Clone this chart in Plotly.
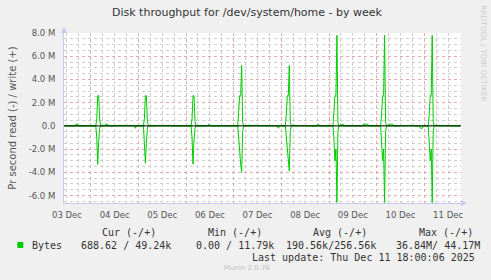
import plotly.graph_objects as go

title = "Disk throughput for /dev/system/home - by week"
y_title = "Pr second read (-) / write (+)"
x_start = "2025-12-03 10:30"
x_end = "2025-12-11 18:30"
y_tick_vals = [8, 6, 4, 2, 0, -2, -4, -6]
y_tick_text = ["8.0 M", "6.0 M", "4.0 M", "2.0 M", "0.0", "-2.0 M", "-4.0 M", "-6.0 M"]

# write (+) series, MB/s
write_times = [
    "2025-12-03 10:30", "2025-12-03 12:00", "2025-12-03 16:00", "2025-12-03 16:30", "2025-12-03 17:30", "2025-12-03 18:00",
    "2025-12-04 02:30", "2025-12-04 03:00", "2025-12-04 03:30", "2025-12-04 04:00", "2025-12-04 04:30", "2025-12-04 05:00",
    "2025-12-04 07:00", "2025-12-04 07:30", "2025-12-04 08:30", "2025-12-04 09:00",
    "2025-12-04 15:00", "2025-12-04 20:00", "2025-12-04 20:30",
    "2025-12-05 02:30", "2025-12-05 03:00", "2025-12-05 03:30", "2025-12-05 04:00", "2025-12-05 04:30", "2025-12-05 05:00",
    "2025-12-05 12:00", "2025-12-05 16:00", "2025-12-05 16:30",
    "2025-12-06 02:30", "2025-12-06 03:00", "2025-12-06 03:30", "2025-12-06 04:00", "2025-12-06 04:30", "2025-12-06 05:00",
    "2025-12-06 11:00", "2025-12-06 11:30", "2025-12-06 12:00",
    "2025-12-07 02:00", "2025-12-07 02:30", "2025-12-07 03:00", "2025-12-07 03:30", "2025-12-07 04:00", "2025-12-07 04:30", "2025-12-07 05:00",
    "2025-12-07 07:30", "2025-12-07 10:30", "2025-12-07 11:00",
    "2025-12-08 02:00", "2025-12-08 02:30", "2025-12-08 03:00", "2025-12-08 03:30", "2025-12-08 04:00", "2025-12-08 04:30", "2025-12-08 05:00",
    "2025-12-08 05:30", "2025-12-08 08:30", "2025-12-08 09:00",
    "2025-12-08 18:00", "2025-12-08 18:30", "2025-12-08 19:00", "2025-12-08 19:30",
    "2025-12-09 02:00", "2025-12-09 02:30", "2025-12-09 03:00", "2025-12-09 03:30", "2025-12-09 04:00", "2025-12-09 04:30", "2025-12-09 05:00",
    "2025-12-09 06:00", "2025-12-09 07:30", "2025-12-09 08:00",
    "2025-12-09 17:00", "2025-12-09 17:30", "2025-12-09 19:30", "2025-12-09 20:00",
    "2025-12-10 02:00", "2025-12-10 02:30", "2025-12-10 03:00", "2025-12-10 03:30", "2025-12-10 04:00", "2025-12-10 04:30", "2025-12-10 05:00",
    "2025-12-10 07:00", "2025-12-10 08:00", "2025-12-10 08:30",
    "2025-12-10 13:30", "2025-12-10 18:00", "2025-12-10 18:30",
    "2025-12-11 02:00", "2025-12-11 02:30", "2025-12-11 03:00", "2025-12-11 03:30", "2025-12-11 04:00", "2025-12-11 04:30", "2025-12-11 05:00",
    "2025-12-11 05:30", "2025-12-11 08:00", "2025-12-11 08:30",
    "2025-12-11 12:00", "2025-12-11 16:30", "2025-12-11 17:00", "2025-12-11 18:00",
]
write_vals = [
    0.03, 0.0, 0.0, 0.15, 0.15, 0.0,
    0.0, 0.6, 2.6, 2.6, 0.5, 0.0,
    0.0, 0.15, 0.15, 0.0,
    0.05, 0.05, 0.0,
    0.0, 0.6, 2.6, 2.6, 0.4, 0.0,
    0.05, 0.05, 0.0,
    0.0, 0.6, 2.6, 2.6, 0.4, 0.0,
    0.0, 0.15, 0.0,
    0.0, 1.0, 2.6, 2.6, 5.2, 0.3, 0.0,
    0.05, 0.05, 0.0,
    0.0, 1.0, 2.6, 2.6, 5.2, 0.3, 0.0,
    0.05, 0.05, 0.0,
    0.0, 0.15, 0.1, 0.0,
    0.0, 1.0, 2.6, 2.6, 7.8, 0.3, 0.0,
    0.1, 0.1, 0.0,
    0.0, 0.15, 0.15, 0.0,
    0.0, 1.0, 2.6, 2.6, 7.8, 0.3, 0.0,
    0.15, 0.15, 0.0,
    0.05, 0.05, 0.0,
    0.0, 1.0, 2.6, 2.6, 7.8, 0.3, 0.0,
    0.05, 0.05, 0.0,
    0.05, 0.05, 0.0, 0.0,
]

# read (-) series, MB/s
read_times = [
    "2025-12-03 10:30",
    "2025-12-04 02:30", "2025-12-04 03:00", "2025-12-04 03:30", "2025-12-04 04:00", "2025-12-04 04:30", "2025-12-04 05:00",
    "2025-12-04 10:00", "2025-12-04 10:30", "2025-12-04 11:00",
    "2025-12-04 22:00", "2025-12-04 22:30", "2025-12-04 23:00",
    "2025-12-05 02:30", "2025-12-05 03:00", "2025-12-05 03:30", "2025-12-05 04:00", "2025-12-05 04:30", "2025-12-05 05:00",
    "2025-12-06 02:30", "2025-12-06 03:00", "2025-12-06 03:30", "2025-12-06 04:00", "2025-12-06 04:30", "2025-12-06 05:00",
    "2025-12-07 02:00", "2025-12-07 02:30", "2025-12-07 03:00", "2025-12-07 03:30", "2025-12-07 04:00", "2025-12-07 04:30", "2025-12-07 05:00",
    "2025-12-07 22:00", "2025-12-07 22:30", "2025-12-07 23:00",
    "2025-12-08 02:00", "2025-12-08 02:30", "2025-12-08 03:00", "2025-12-08 03:30", "2025-12-08 04:00", "2025-12-08 04:30", "2025-12-08 05:00",
    "2025-12-08 15:30", "2025-12-08 16:00", "2025-12-08 16:30",
    "2025-12-09 02:00", "2025-12-09 02:30", "2025-12-09 03:00", "2025-12-09 03:30", "2025-12-09 04:00", "2025-12-09 04:30", "2025-12-09 05:00",
    "2025-12-10 02:00", "2025-12-10 02:30", "2025-12-10 03:00", "2025-12-10 03:30", "2025-12-10 04:00", "2025-12-10 04:30", "2025-12-10 05:00",
    "2025-12-10 21:30", "2025-12-10 22:00", "2025-12-10 23:00", "2025-12-10 23:30",
    "2025-12-11 02:00", "2025-12-11 02:30", "2025-12-11 03:00", "2025-12-11 03:30", "2025-12-11 04:00", "2025-12-11 04:30", "2025-12-11 05:00",
    "2025-12-11 18:00",
]
read_vals = [
    0.0,
    0.0, -1.0, -3.3, -1.2, -0.2, 0.0,
    0.0, -0.1, 0.0,
    0.0, -0.2, 0.0,
    0.0, -1.5, -3.2, -1.5, -0.2, 0.0,
    0.0, -1.0, -3.3, -1.2, -0.2, 0.0,
    0.0, -1.0, -2.4, -3.3, -4.0, -0.5, 0.0,
    0.0, -0.2, 0.0,
    0.0, -1.0, -2.4, -3.3, -3.9, -0.5, 0.0,
    0.0, -0.1, 0.0,
    0.0, -1.2, -3.0, -2.0, -6.6, -0.5, 0.0,
    0.0, -1.2, -3.0, -2.0, -6.6, -0.5, 0.0,
    0.0, -0.2, -0.2, 0.0,
    0.0, -1.2, -3.0, -2.0, -6.6, -0.5, 0.0,
    0.0,
]

legend_headers = ["Cur (-/+)", "Min (-/+)", "Avg (-/+)", "Max (-/+)"]
legend_name = "Bytes"
legend_values = ["688.62 / 49.24k", "0.00 / 11.79k", "190.56k/256.56k", "36.84M/ 44.17M"]
last_update = "Last update: Thu Dec 11 18:00:06 2025"
munin_version = "Munin 2.0.76"
side_text = "RRDTOOL / TOBI OETIKER"

W, H = 491, 280
L, R, T, B = 61, 461, 33, 203
line_color = "#00CC00"


def px(x):
    return (x - L) / (R - L)


def py(y):
    return (B - y) / (B - T)


fig = go.Figure()
fig.add_trace(go.Scatter(x=read_times, y=read_vals, mode="lines",
                         line=dict(color=line_color, width=1), hoverinfo="skip"))
fig.add_trace(go.Scatter(x=write_times, y=write_vals, mode="lines",
                         line=dict(color=line_color, width=1), hoverinfo="skip"))

major_grid = "#EBA8A8"
minor_grid = "#CFCFCF"
axis_col = "#C8C8F0"
tick_font = dict(family="DejaVu Sans", size=8.5, color="#555555")

fig.update_layout(
    width=W, height=H,
    margin=dict(l=L, r=W - R, t=T, b=H - B, pad=0),
    paper_bgcolor="#F0F0F0",
    plot_bgcolor="#FFFFFF",
    showlegend=False,
    xaxis=dict(
        type="date", range=[x_start, x_end],
        tick0="2025-12-03", dtick=86400000, tickformat="%d %b",
        ticklabelmode="period", ticks="", tickfont=tick_font,
        showgrid=True, gridcolor=major_grid, griddash="dot", gridwidth=1,
        minor=dict(dtick=6 * 3600 * 1000, tick0="2025-12-03", showgrid=True,
                   gridcolor=minor_grid, griddash="dot", gridwidth=1),
        showline=True, linecolor=axis_col, linewidth=1,
        zeroline=False, fixedrange=True, ticklabelstandoff=4,
    ),
    yaxis=dict(
        range=[-6.64, 8.0], tickmode="array", tickvals=y_tick_vals, ticktext=y_tick_text,
        ticks="", tickfont=tick_font,
        showgrid=True, gridcolor=major_grid, griddash="dot", gridwidth=1,
        minor=dict(tickmode="linear", tick0=0, dtick=0.5, showgrid=True,
                   gridcolor=minor_grid, griddash="dot", gridwidth=1),
        showline=True, linecolor=axis_col, linewidth=1,
        zeroline=False, fixedrange=True, ticklabelstandoff=6,
        title=dict(text=y_title, font=dict(family="DejaVu Sans", size=10, color="#555555"), standoff=10),
    ),
)

shapes = []
shapes.append(dict(type="line", xref="paper", yref="y", x0=0, x1=1, y0=0, y1=0,
                   line=dict(color="#000000", width=1), layer="above"))
shapes.append(dict(type="path", xref="paper", yref="paper",
                   path=f"M {px(58)} {py(33)} L {px(64)} {py(33)} L {px(61)} {py(27)} Z",
                   fillcolor=axis_col, line=dict(width=0)))
shapes.append(dict(type="path", xref="paper", yref="paper",
                   path=f"M {px(461)} {py(200)} L {px(461)} {py(206)} L {px(467)} {py(203)} Z",
                   fillcolor=axis_col, line=dict(width=0)))
shapes.append(dict(type="rect", xref="paper", yref="paper",
                   x0=px(14), x1=px(20), y0=py(248), y1=py(242),
                   fillcolor=line_color, line=dict(width=0)))
fig.update_layout(shapes=shapes)

mono = dict(family="DejaVu Sans Mono", size=10, color="#333333")
ann = []
ann.append(dict(text=title, x=px(246), y=py(12), xref="paper", yref="paper",
                showarrow=False, xanchor="center", yanchor="middle",
                font=dict(family="DejaVu Sans", size=11, color="#333333")))
ann.append(dict(text=side_text, x=px(484), y=py(54), xref="paper", yref="paper",
                showarrow=False, textangle=90, xanchor="center", yanchor="middle",
                font=dict(family="DejaVu Sans", size=7.5, color="#CCCCCC")))
header_x = [97, 204, 310, 417]
for hx, h in zip(header_x, legend_headers):
    ann.append(dict(text=h, x=px(hx), y=py(232), xref="paper", yref="paper",
                    showarrow=False, xanchor="left", yanchor="middle", font=mono))
ann.append(dict(text=legend_name, x=px(26.5), y=py(245), xref="paper", yref="paper",
                showarrow=False, xanchor="left", yanchor="middle", font=mono))
value_x = [76.5, 192, 283, 393]
for vx, v in zip(value_x, legend_values):
    ann.append(dict(text=v, x=px(vx), y=py(245), xref="paper", yref="paper",
                    showarrow=False, xanchor="left", yanchor="middle", font=mono))
ann.append(dict(text=last_update, x=px(477), y=py(257), xref="paper", yref="paper",
                showarrow=False, xanchor="right", yanchor="middle", font=mono))
ann.append(dict(text=munin_version, x=px(245), y=py(268), xref="paper", yref="paper",
                showarrow=False, xanchor="center", yanchor="middle",
                font=dict(family="DejaVu Sans", size=7, color="#C0C0C0")))
fig.update_layout(annotations=ann)

fig.write_html("out.html")
